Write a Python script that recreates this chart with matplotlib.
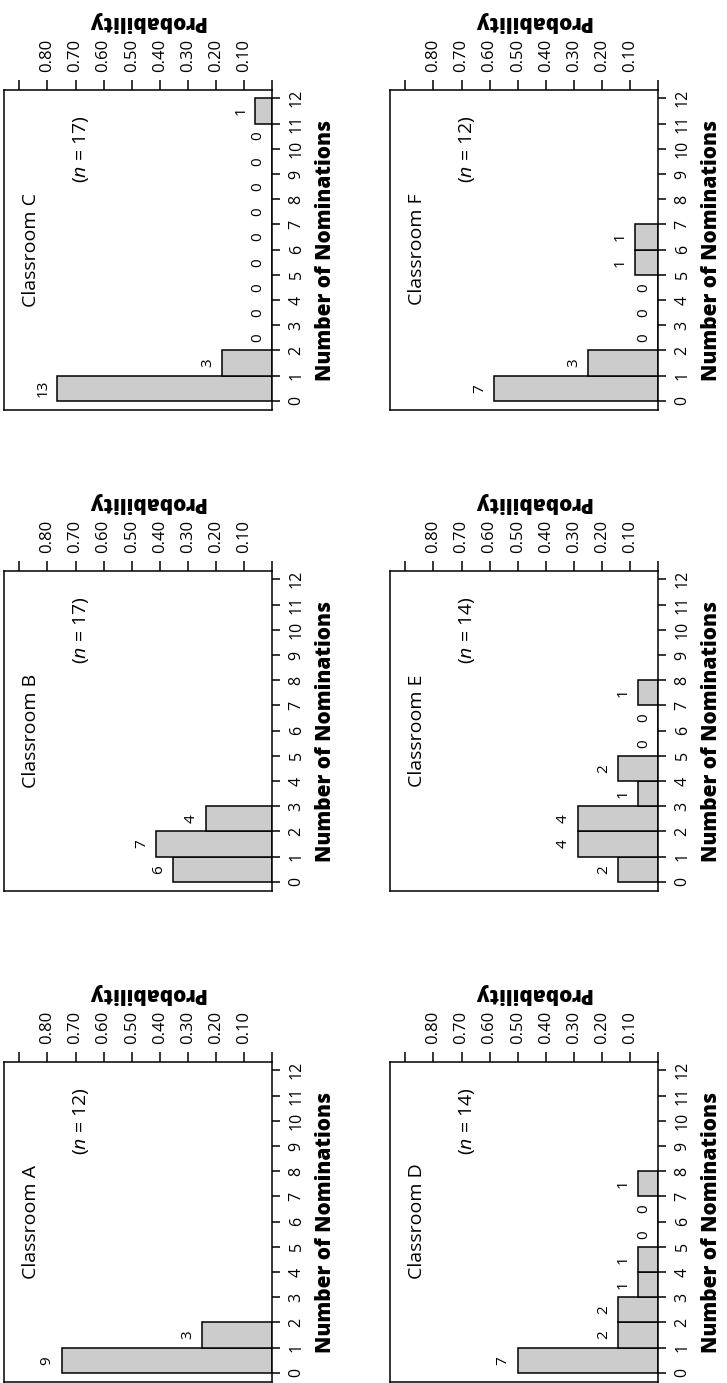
import numpy as np
import matplotlib
matplotlib.use('Agg')
import matplotlib.pyplot as plt

plt.rcParams['font.family'] = ['Open Sans', 'DejaVu Sans']
plt.rcParams['mathtext.fontset'] = 'custom'
plt.rcParams['mathtext.rm'] = 'Open Sans'
plt.rcParams['mathtext.it'] = 'Open Sans:italic'

# nomination counts per classroom (bins 0-1, 1-2, ...)
counts_a = [9, 3]
counts_b = [6, 7, 4]
counts_c = [13, 3, 0, 0, 0, 0, 0, 0, 0, 0, 0, 1]
counts_d = [7, 2, 2, 1, 1, 0, 0, 1]
counts_e = [2, 4, 4, 1, 2, 0, 0, 1]
counts_f = [7, 3, 0, 0, 0, 1, 1]
class_names = ['A', 'B', 'C', 'D', 'E', 'F']
class_n = [12, 17, 17, 14, 14, 12]
prob_ticks = [0.0, 0.1, 0.2, 0.3, 0.4, 0.5, 0.6, 0.7, 0.8, 0.9]
prob_labels = ['', '0.10', '0.20', '0.30', '0.40', '0.50', '0.60', '0.70', '0.80', '']
nom_ticks = list(range(13))

W, H = 727, 1383
fig = plt.figure(figsize=(W/100, H/100), dpi=100)

# page is turned: panel boxes in pixels (left, top)
boxes = {'A': (4, 1062), 'B': (4, 571), 'C': (4, 90),
         'D': (390, 1062), 'E': (390, 571), 'F': (390, 90)}
bw, bh = 268, 320
all_counts = [counts_a, counts_b, counts_c, counts_d, counts_e, counts_f]

for name, n, counts in zip(class_names, class_n, all_counts):
    x0, top = boxes[name]
    ax = fig.add_axes([x0/W, 1-(top+bh)/H, bw/W, bh/H])
    k = np.arange(len(counts))
    p = np.array(counts)/n
    ax.barh(k+0.5, p, height=1, left=0, color='#cccccc', edgecolor='black', lw=1.1)
    for ki, c, pi in zip(k, counts, p):
        ax.annotate(str(c), (pi, ki+0.5), xytext=(-5, 0), textcoords='offset points',
                    rotation=90, ha='right', va='center', fontsize=11)
    ax.set_xlim(0.955, 0)
    ax.set_ylim(-0.36, 12.33)
    ax.xaxis.tick_top()
    ax.set_xticks(prob_ticks)
    ax.set_xticklabels(prob_labels, rotation=90, fontsize=12)
    ax.tick_params(axis='x', direction='out', length=7, width=1.1, pad=6)
    ax.yaxis.tick_right()
    ax.set_yticks(nom_ticks)
    ax.set_yticklabels([str(t) for t in nom_ticks], rotation=90, va='center', fontsize=11.5)
    ax.tick_params(axis='y', direction='out', length=6, width=1.1, pad=6)
    for s in ax.spines.values():
        s.set_linewidth(1.1)
    ax.text(0.53, 1.215, 'Probability', transform=ax.transAxes, rotation=180,
            ha='center', va='center', fontsize=15, fontweight=800)
    ax.text(1.2, 0.5, 'Number of Nominations', transform=ax.transAxes, rotation=90,
            ha='center', va='center', fontsize=15, fontweight=800)
    ax.text(0.86, 6, 'Classroom ' + name, rotation=90, ha='center', va='center', fontsize=14)
    ax.text(0.68, 10, '($n$ = %d)' % n, rotation=90, ha='center', va='center', fontsize=14)

fig.savefig('out.png', dpi=100)
